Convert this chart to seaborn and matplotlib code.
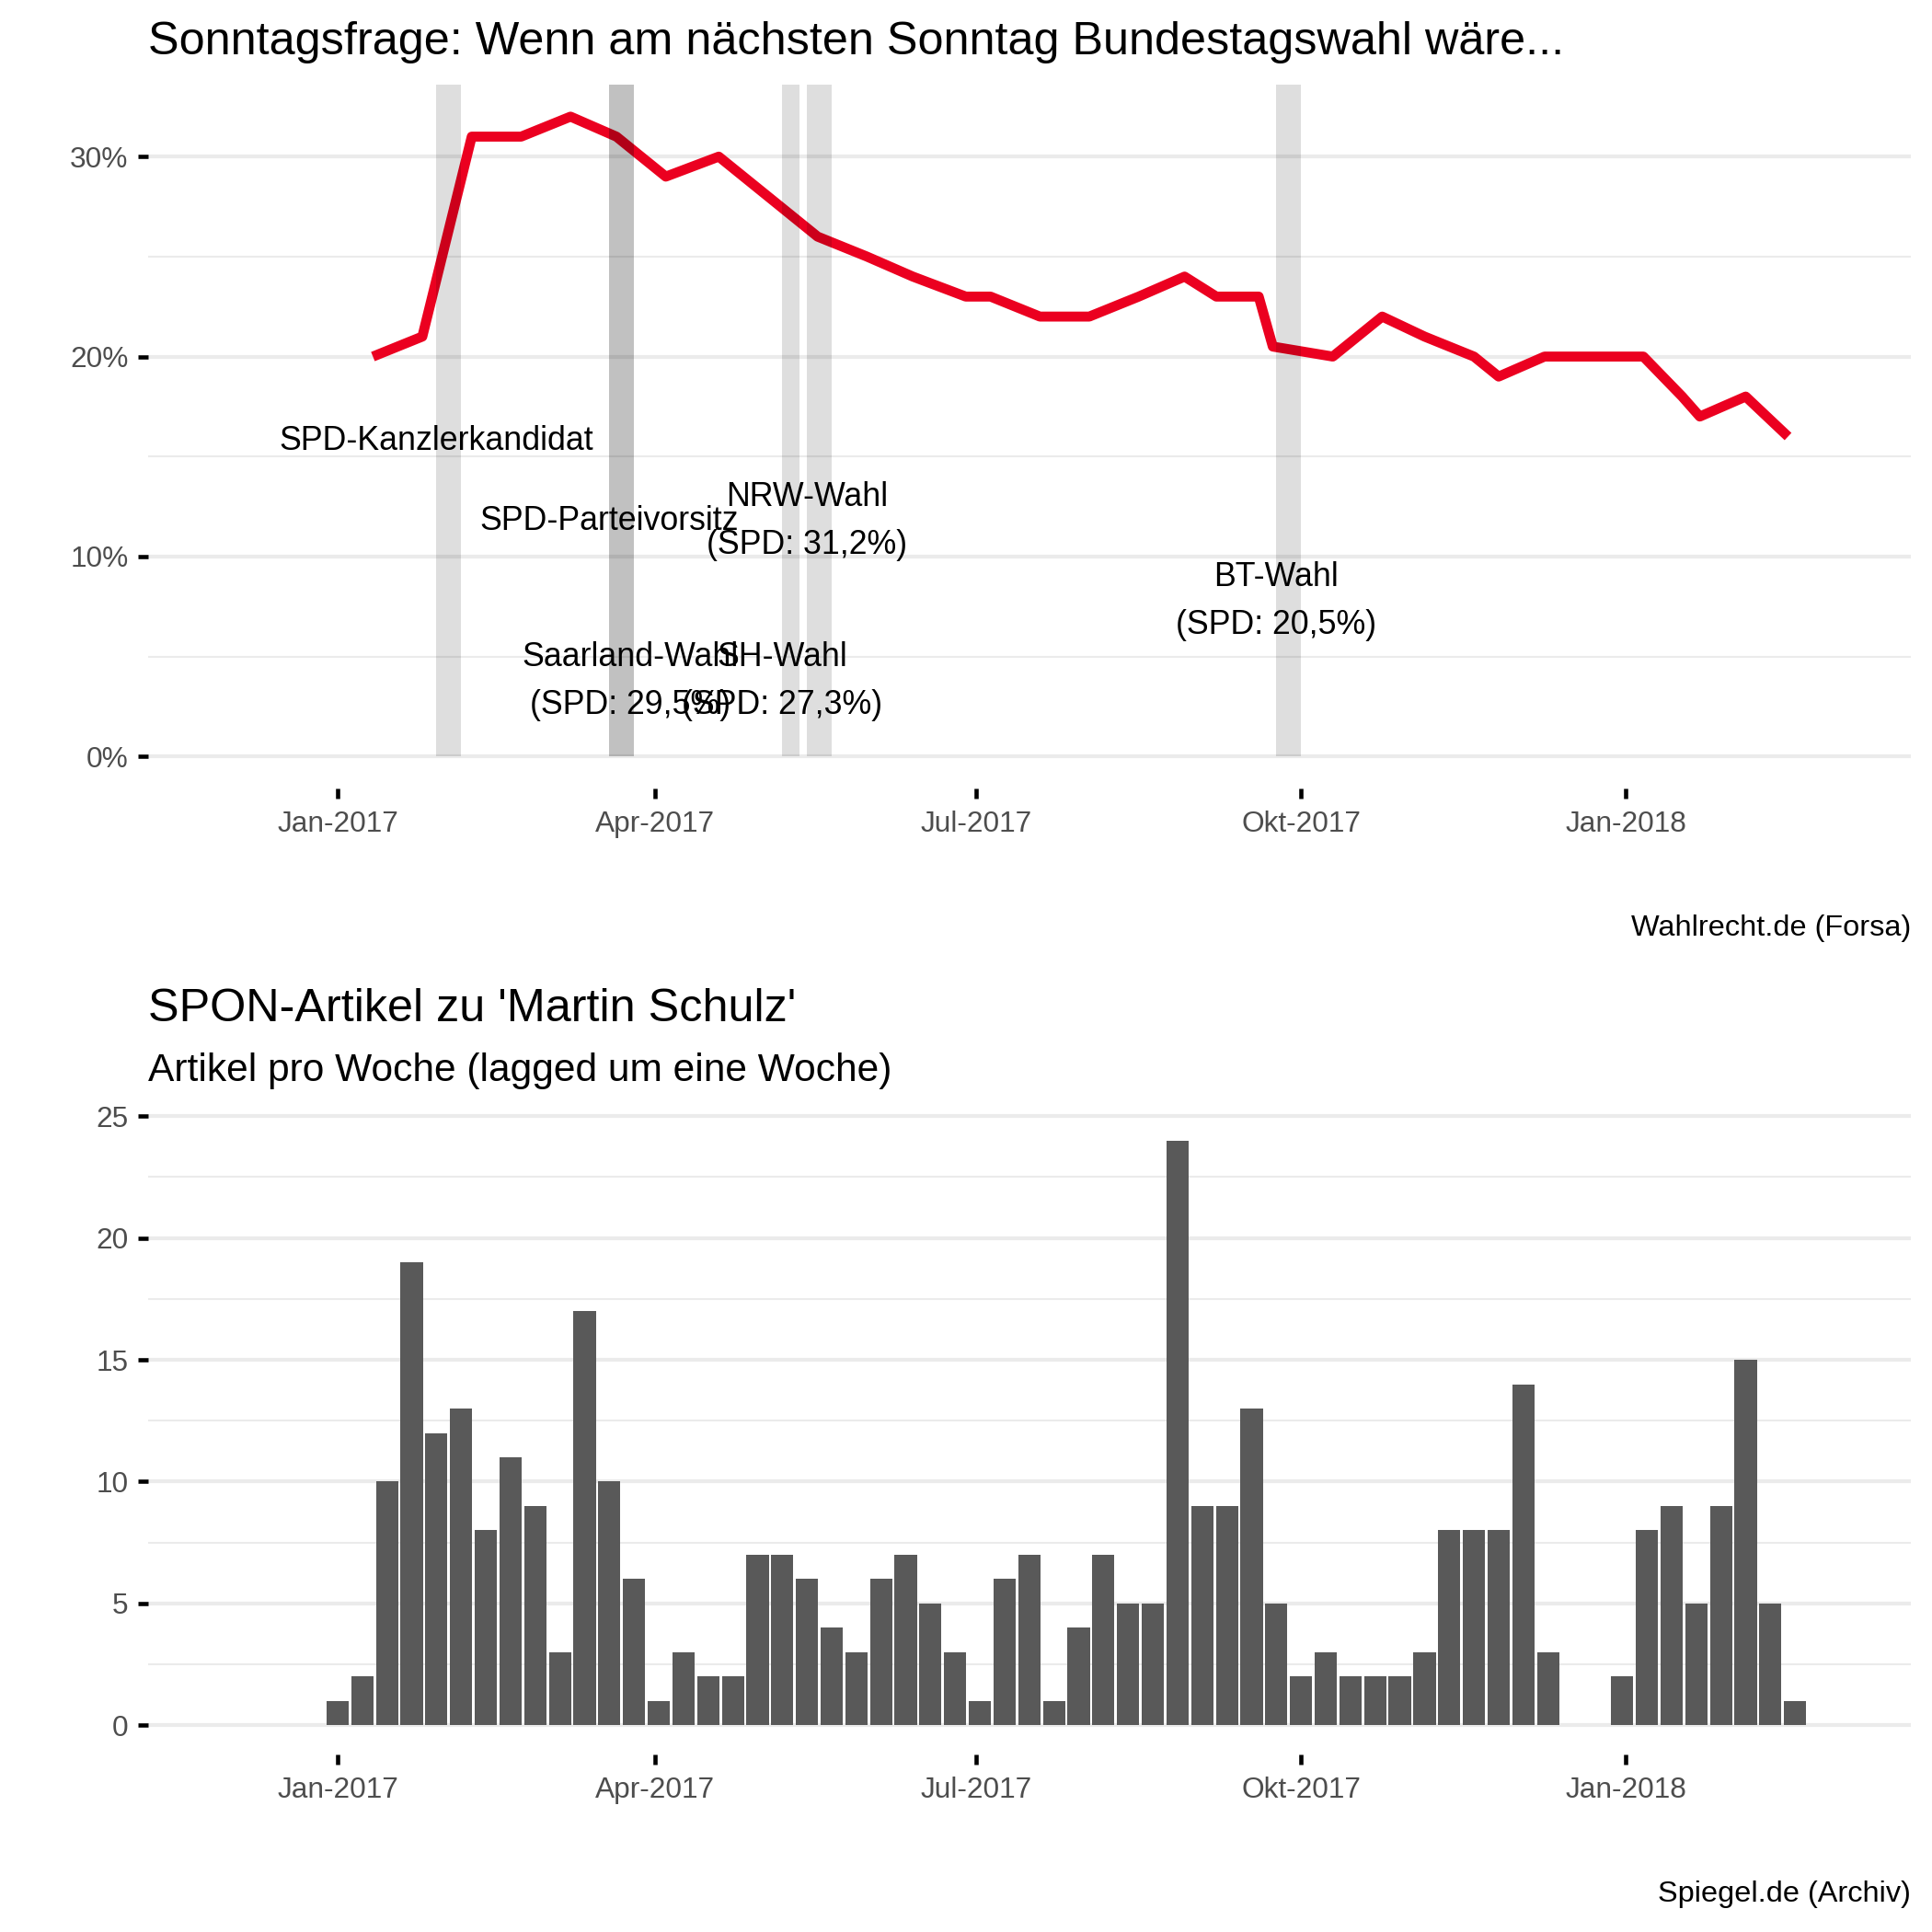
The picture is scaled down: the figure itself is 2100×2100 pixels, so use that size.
import datetime as dt
import numpy as np
import pandas as pd
import matplotlib
matplotlib.use("Agg")
import matplotlib.pyplot as plt
import matplotlib.dates as mdates
import matplotlib.transforms as mtransforms
import seaborn as sns

# ---------------- data ----------------
poll_dates = ["2017-01-11", "2017-01-25", "2017-02-08", "2017-02-22", "2017-03-08",
              "2017-03-21", "2017-04-04", "2017-04-19", "2017-05-03", "2017-05-17",
              "2017-05-31", "2017-06-13", "2017-06-28", "2017-07-05", "2017-07-19",
              "2017-08-02", "2017-08-16", "2017-08-29", "2017-09-07", "2017-09-19",
              "2017-09-23", "2017-10-10", "2017-10-24", "2017-11-05", "2017-11-19",
              "2017-11-26", "2017-12-09", "2017-12-23", "2018-01-06", "2018-01-17",
              "2018-01-22", "2018-02-04", "2018-02-16"]
poll_spd = [20, 21, 31, 31, 32, 31, 29, 30, 28, 26, 25, 24, 23, 23, 22, 22, 23, 24,
            23, 23, 20.5, 20, 22, 21, 20, 19, 20, 20, 20, 18, 17, 18, 16]

week_start = "2017-01-01"
articles_per_week = [1, 2, 10, 19, 12, 13, 8, 11, 9, 3,
                     17, 10, 6, 1, 3, 2, 2, 7, 7, 6,
                     4, 3, 6, 7, 5, 3, 1, 6, 7, 1,
                     4, 7, 5, 5, 24, 9, 9, 13, 5, 2,
                     3, 2, 2, 2, 3, 8, 8, 8, 14, 3,
                     0, 0, 2, 8, 9, 5, 9, 15, 5, 1]

event_start = ["2017-01-29", "2017-03-19", "2017-03-19", "2017-05-07", "2017-05-14", "2017-09-24"]
event_end = ["2017-02-05", "2017-03-26", "2017-03-26", "2017-05-12", "2017-05-21", "2017-10-01"]

label_texts = ["SPD-Kanzlerkandidat", "SPD-Parteivorsitz", "Saarland-Wahl\n(SPD: 29,5%)",
               "SH-Wahl\n(SPD: 27,3%)", "NRW-Wahl\n(SPD: 31,2%)", "BT-Wahl\n(SPD: 20,5%)"]
label_dates = ["2017-01-29", "2017-03-19", "2017-03-25", "2017-05-07", "2017-05-14", "2017-09-24"]
label_y = [16, 12, 4, 4, 12, 8]

tick_dates = ["2017-01-01", "2017-04-01", "2017-07-01", "2017-10-01", "2018-01-01"]
tick_labels = ["Jan-2017", "Apr-2017", "Jul-2017", "Okt-2017", "Jan-2018"]

title_top = "Sonntagsfrage: Wenn am nächsten Sonntag Bundestagswahl wäre..."
caption_top = "Wahlrecht.de (Forsa)"
title_bottom = "SPON-Artikel zu 'Martin Schulz'"
subtitle_bottom = "Artikel pro Woche (lagged um eine Woche)"
caption_bottom = "Spiegel.de (Archiv)"

# ---------------- style ----------------
sns.set_theme(style="white")
plt.rcParams["font.family"] = ["Liberation Sans", "DejaVu Sans"]

RED = "#EB0020"
BAR = "#595959"
GRID = "#EBEBEB"
TICKTXT = "#4D4D4D"

def dnum(s):
    return mdates.date2num(pd.Timestamp(s).to_pydatetime())

x0 = dnum("2017-01-01")
XLIM = (x0 - 53.7, x0 + 445.8)

fig = plt.figure(figsize=(7, 7), dpi=300)
ax1 = fig.add_axes([0.07667, 0.59190, 0.91238, 0.36429])
ax2 = fig.add_axes([0.07667, 0.09190, 0.91238, 0.33286])

def style_axis(ax, major, minor):
    for s in ax.spines.values():
        s.set_visible(False)
    ax.set_xlim(*XLIM)
    ax.set_xticks([dnum(d) for d in tick_dates])
    ax.set_xticklabels(tick_labels)
    ax.set_yticks(major)
    ax.set_yticks(minor, minor=True)
    ax.tick_params(axis="both", which="major", length=11.5 / 4.1667, width=1.1,
                   color="black", labelsize=7.6, labelcolor=TICKTXT,
                   bottom=True, left=True, direction="out")
    ax.tick_params(axis="x", which="major", pad=3.0)
    ax.tick_params(axis="y", which="major", pad=2.4)
    ax.tick_params(which="minor", length=0, bottom=False, left=False)
    ax.grid(False)
    ax.yaxis.grid(True, which="major", color=GRID, linewidth=1.0, zorder=0)
    ax.yaxis.grid(True, which="minor", color=GRID, linewidth=0.5, zorder=0)
    ax.set_axisbelow(True)
    ax.set_xlabel("")
    ax.set_ylabel("")

# ---------------- top panel ----------------
df_poll = pd.DataFrame({"date": [dnum(d) for d in poll_dates], "spd": poll_spd})
sns.lineplot(data=df_poll, x="date", y="spd", ax=ax1, color=RED, linewidth=2.6,
             sort=False, estimator=None, solid_capstyle="butt", solid_joinstyle="round",
             zorder=2)
for s, e in zip(event_start, event_end):
    ax1.axvspan(dnum(s), dnum(e), ymin=(0 + 1.6) / 35.2, ymax=1, color="black",
                alpha=0.13, lw=0, zorder=3)
txt_trans = mtransforms.offset_copy(ax1.transData, fig=fig, x=0, y=-1.3, units="points")
for t, d, y in zip(label_texts, label_dates, label_y):
    ax1.text(dnum(d), y, t, ha="center", va="center", fontsize=8.6, color="black",
             linespacing=1.63, zorder=4, transform=txt_trans)
ax1.set_ylim(-1.6, 33.6)
style_axis(ax1, [0, 10, 20, 30], [5, 15, 25])
ax1.set_yticklabels(["0%", "10%", "20%", "30%"])

# ---------------- bottom panel ----------------
centers = [dnum(week_start) + 7 * i for i in range(len(articles_per_week))]
edges = [c - 3.5 for c in centers] + [centers[-1] + 3.5]
df_art = pd.DataFrame({"week": centers, "n": articles_per_week})
sns.histplot(data=df_art, x="week", weights="n", bins=edges, shrink=0.9, ax=ax2,
             color=BAR, edgecolor="none", alpha=1, linewidth=0, zorder=2)
ax2.set_ylim(-1.2, 25.2)
style_axis(ax2, [0, 5, 10, 15, 20, 25], [2.5, 7.5, 12.5, 17.5, 22.5])
ax2.set_yticklabels(["0", "5", "10", "15", "20", "25"])

# ---------------- titles & captions ----------------
L = 0.07667
R = 0.98905
fig.text(L, 0.97190, title_top, ha="left", va="baseline", fontsize=12.1, color="black")
fig.text(R, 0.51571, caption_top, ha="right", va="baseline", fontsize=7.8, color="black")
fig.text(L, 0.47143, title_bottom, ha="left", va="baseline", fontsize=12.1, color="black")
fig.text(L, 0.44048, subtitle_bottom, ha="left", va="baseline", fontsize=10.2, color="black")
fig.text(R, 0.01571, caption_bottom, ha="right", va="baseline", fontsize=7.8, color="black")

fig.savefig("out.png", dpi=300, facecolor="white")
